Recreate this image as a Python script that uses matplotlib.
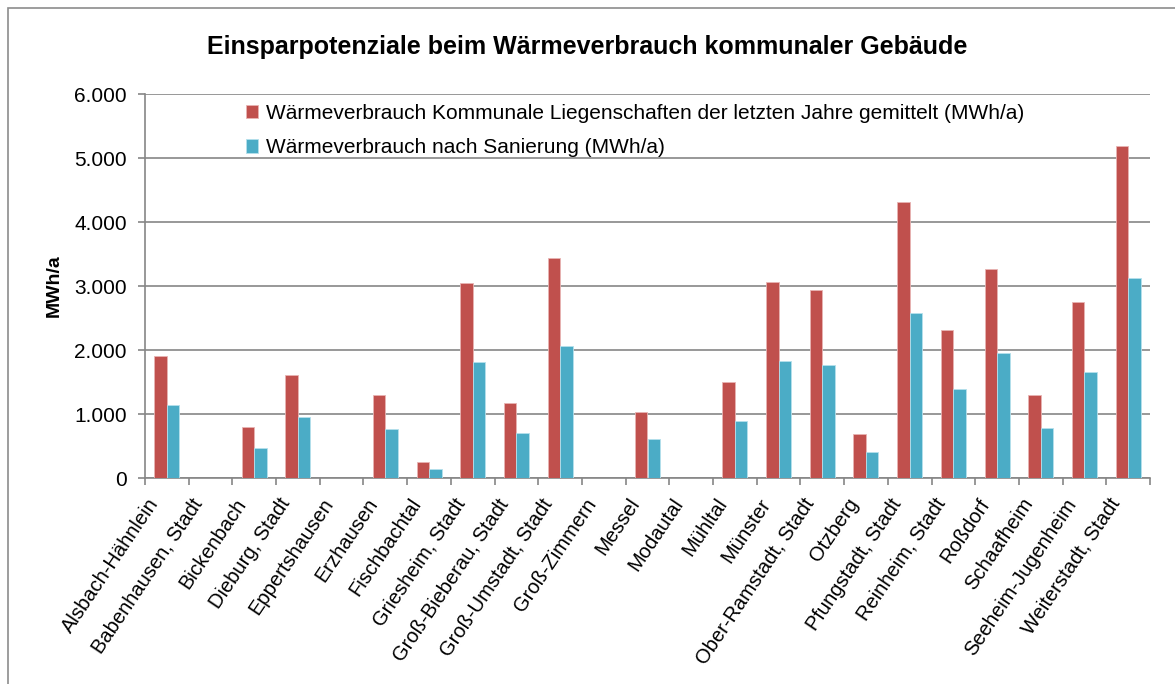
import numpy as np
import matplotlib.pyplot as plt
from matplotlib.patches import Rectangle
from matplotlib.ticker import FuncFormatter, FixedLocator

plt.rcParams['font.family'] = ['Liberation Sans', 'DejaVu Sans']

# --- data (MWh/a) ---
gemeinden = ["Alsbach-Hähnlein", "Babenhausen, Stadt", "Bickenbach", "Dieburg, Stadt",
             "Eppertshausen", "Erzhausen", "Fischbachtal", "Griesheim, Stadt",
             "Groß-Bieberau, Stadt", "Groß-Umstadt, Stadt", "Groß-Zimmern", "Messel",
             "Modautal", "Mühltal", "Münster", "Ober-Ramstadt, Stadt", "Otzberg",
             "Pfungstadt, Stadt", "Reinheim, Stadt", "Roßdorf", "Schaafheim",
             "Seeheim-Jugenheim", "Weiterstadt, Stadt"]
verbrauch_ist = [1900, 0, 800, 1605, 0, 1295, 250, 3045, 1165, 3445, 0, 1035,
                 0, 1495, 3065, 2945, 690, 4315, 2320, 3265, 1300, 2755, 5195]
verbrauch_saniert = [1140, 0, 475, 960, 0, 770, 145, 1820, 705, 2065, 0, 615,
                     0, 895, 1835, 1770, 410, 2585, 1385, 1950, 775, 1650, 3120]
label_ist = "Wärmeverbrauch Kommunale Liegenschaften der letzten Jahre gemittelt (MWh/a)"
label_saniert = "Wärmeverbrauch nach Sanierung (MWh/a)"

rot = '#C0504D'
blau = '#4BACC6'
grau = '#868686'

W, H = 1175, 684
fig = plt.figure(figsize=(W / 100, H / 100), dpi=100)

# outer chart frame (top and left edges visible)
fig.patches.append(Rectangle((8 / W, -0.1), 1.2, 1 - 8 / H + 0.1, transform=fig.transFigure,
                             fill=False, edgecolor='#8c8c8c', linewidth=1.2))

ax = fig.add_axes([145 / W, 1 - 478 / H, (1150 - 145) / W, (478 - 94) / H])

x = np.arange(len(gemeinden))
w = 0.286
ax.bar(x - w / 2, verbrauch_ist, w, color=rot, edgecolor='#e8b4b3', linewidth=0.6,
       label=label_ist, zorder=3)
ax.bar(x + w / 2, verbrauch_saniert, w, color=blau, edgecolor='#b5e0ec', linewidth=0.6,
       label=label_saniert, zorder=3)

ax.set_xlim(-0.5, len(gemeinden) - 0.5)
ax.set_ylim(0, 6000)
ax.set_yticks(np.arange(0, 6001, 1000))
ax.yaxis.set_major_formatter(FuncFormatter(lambda v, p: f"{int(v):,}".replace(',', '.')))
ax.grid(axis='y', color=grau, linewidth=1.2, zorder=0)

# x ticks between categories; labels (invisible minor ticks) slightly left of centre
ax.xaxis.set_major_locator(FixedLocator(np.arange(-0.5, len(gemeinden), 1.0)))
ax.xaxis.set_major_formatter(FuncFormatter(lambda v, p: ''))
ax.set_xticks(x - 0.27, minor=True)
ax.set_xticklabels(gemeinden, minor=True, rotation=56, ha='right', va='center',
                   rotation_mode='anchor', fontsize=14.5)
ax.tick_params(axis='x', which='minor', length=0, pad=16)
ax.tick_params(axis='x', which='major', length=5, color=grau, width=1.2)
ax.tick_params(axis='y', length=5, color=grau, width=1.2, labelsize=15, pad=8)

for s in ['top', 'right']:
    ax.spines[s].set_visible(False)
for s in ['left', 'bottom']:
    ax.spines[s].set_color(grau)
    ax.spines[s].set_linewidth(1.2)

ax.set_ylabel('MWh/a', fontsize=14, fontweight='bold', labelpad=8)

fig.text(587 / W, 1 - 47 / H, 'Einsparpotenziale beim Wärmeverbrauch kommunaler Gebäude',
         ha='center', va='center', fontsize=18, fontweight='bold')

ax.legend(loc='upper left', bbox_to_anchor=(227 / W, 1 - 85 / H),
          bbox_transform=fig.transFigure, frameon=False, fontsize=15,
          handlelength=0.6, handleheight=0.6, handletextpad=0.35, labelspacing=0.75)

fig.savefig('out.png', dpi=100)
